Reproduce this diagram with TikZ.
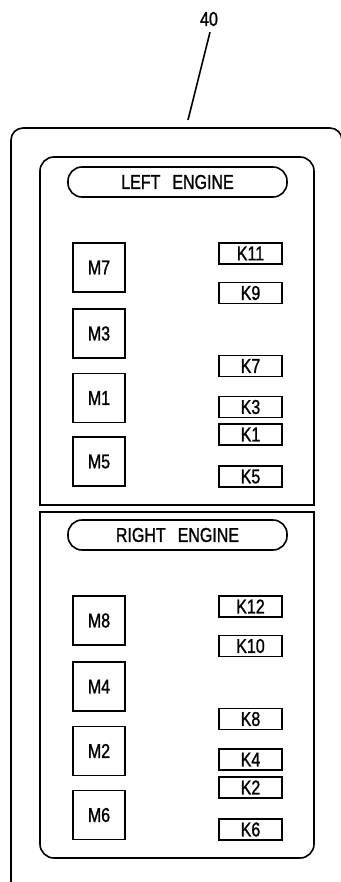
\documentclass[tikz,border=0pt]{standalone}
\usepackage{fontspec}
\newfontfamily\cadfont[FakeStretch=0.8, FakeBold=1.2]{Liberation Sans}
\usetikzlibrary{positioning}

\tikzset{
  mbox/.style={draw, rectangle, minimum width=52pt, minimum height=49pt, inner sep=0pt},
  kbox/.style={draw, rectangle, minimum width=63pt, minimum height=21pt, inner sep=0pt},
  pill/.style={draw, rectangle, rounded corners=14pt, minimum width=219pt, minimum height=30pt, inner sep=0pt}
}

\begin{document}
\begin{tikzpicture}[x=1pt, y=-1pt, line width=1.6pt, font=\cadfont\fontsize{20}{20}\selectfont]
    \useasboundingbox (0,0) rectangle (340,882);

    % outer panel and the two engine panels
    \draw[rounded corners=12pt] (11,128) rectangle (342,893);
    \draw[rounded corners=14pt] (40,505) -- (40,157) -- (314,157) [sharp corners] -- (314,505) -- cycle;
    \draw[rounded corners=14pt] (40,512) -- (40,858) -- (314,858) [sharp corners] -- (314,512) -- cycle;

    % reference number
    \node (num) at (209,19) {40};
    \coordinate (tip) at (188,120);
    \draw (num.south) ++(1,2) -- (tip);

    % left engine
    \node[pill] (lefteng) at (177.5,182) {LEFT\hspace{0.6em}ENGINE};
    \node[mbox] (m7) at (99,267.5) {M7};
    \node[mbox] (m3) at (99,333.5) {M3};
    \node[mbox] (m1) at (99,398) {M1};
    \node[mbox] (m5) at (99,461.5) {M5};
    \node[kbox] (k11) at (250.5,253.5) {K11};
    \node[kbox] (k9) at (250.5,293) {K9};
    \node[kbox] (k7) at (250.5,366) {K7};
    \node[kbox] (k3) at (250.5,407) {K3};
    \node[kbox] (k1) at (250.5,434.5) {K1};
    \node[kbox] (k5) at (250.5,476.5) {K5};

    % right engine
    \node[pill] (righteng) at (177.5,535) {RIGHT\hspace{0.6em}ENGINE};
    \node[mbox] (m8) at (99,620.5) {M8};
    \node[mbox] (m4) at (99,686.5) {M4};
    \node[mbox] (m2) at (99,751) {M2};
    \node[mbox] (m6) at (99,815) {M6};
    \node[kbox] (k12) at (250.5,606.5) {K12};
    \node[kbox] (k10) at (250.5,646) {K10};
    \node[kbox] (k8) at (250.5,719) {K8};
    \node[kbox] (k4) at (250.5,759.5) {K4};
    \node[kbox] (k2) at (250.5,787.5) {K2};
    \node[kbox] (k6) at (250.5,829.5) {K6};
\end{tikzpicture}
\end{document}
